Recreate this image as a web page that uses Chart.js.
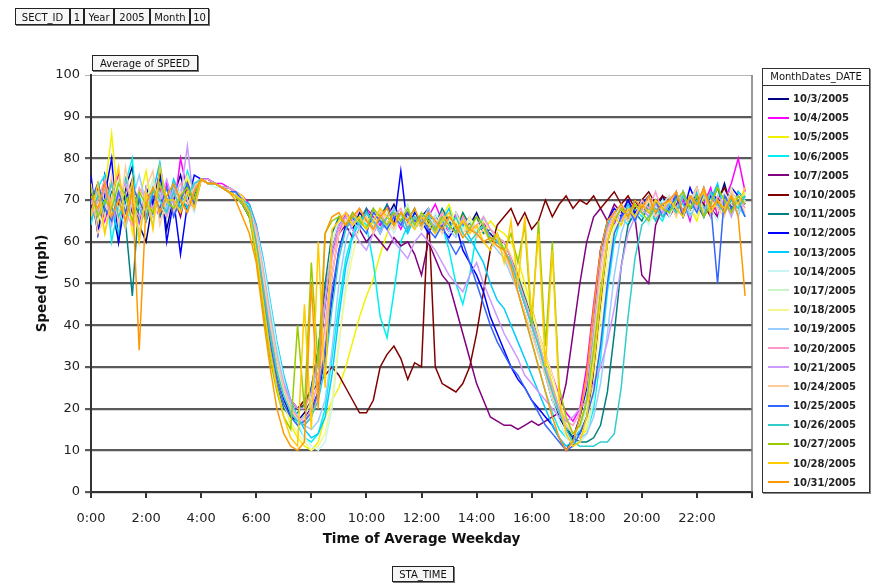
<!DOCTYPE html>
<html>
<head>
<meta charset="utf-8">
<script src="https://cdn.jsdelivr.net/npm/chart.js@4.4.1/dist/chart.umd.min.js"></script>
<style>
  body { margin: 0; background: #fff; font-family: "DejaVu Sans", sans-serif; }
  #wrap { position: relative; width: 880px; height: 585px; overflow: hidden; }
  #chart { position: absolute; left: 0; top: 0; }
  .btn { position: absolute; display: flex; height: 17px; font-size: 10px; line-height: 17px; color: #111; }
  .btn span { border: 1px solid #222; box-shadow: 1px 1px 0 #777; background: #f6f6f6; padding: 0 2px; margin-right: 0; text-align: center; }
  #legend { position: absolute; left: 762px; top: 68px; width: 106px; height: 423px; border: 1px solid #333; box-shadow: 1px 1px 0 #888; background: #fff; }
  #legend .title { height: 16px; line-height: 16px; font-size: 10px; border-bottom: 1px solid #333; text-align: center; color: #111; }
  #legend .item { height: 19.2px; display: flex; align-items: center; font-size: 10px; font-weight: bold; color: #222; }
  #legend .item i { display: inline-block; width: 21px; height: 2px; margin: 0 4px 0 5px; }
</style>
</head>
<body>
<div id="wrap">
  <canvas id="chart" width="880" height="585"></canvas>
  <div class="btn" style="left:15px;top:8px;">
    <span style="width:49px">SECT_ID</span><span style="width:8px">1</span><span style="width:24px">Year</span><span style="width:30px">2005</span><span style="width:34px">Month</span><span style="width:13px">10</span>
  </div>
  <div class="btn" style="left:92px;top:55px;height:16px;line-height:16px;"><span style="width:100px">Average of SPEED</span></div>
  <div class="btn" style="left:392px;top:566px;height:16px;line-height:16px;"><span style="width:56px">STA_TIME</span></div>
  <div id="legend"><div class="title">MonthDates_DATE</div><div id="items" style="padding-top:3px"></div></div>
</div>
<script>
// 15 minute samples, 0:00 .. 23:45
const STEP = 15;
const times = [];
for (let m = 0; m < 1440; m += STEP) times.push(Math.floor(m / 60) + ":" + String(m % 60).padStart(2, "0"));

const seriesNames = ["10/3/2005","10/4/2005","10/5/2005","10/6/2005","10/7/2005","10/10/2005","10/11/2005",
  "10/12/2005","10/13/2005","10/14/2005","10/17/2005","10/18/2005","10/19/2005","10/20/2005","10/21/2005",
  "10/24/2005","10/25/2005","10/26/2005","10/27/2005","10/28/2005","10/31/2005"];

const seriesColors = ["#000080","#FF00FF","#F2F200","#00F0F0","#800080","#800000","#008080","#0000FF",
  "#00CCFF","#C8F4F4","#C8F4C8","#F6F68C","#99CCFF","#FF99CC","#CC99FF","#FFCC99","#3366FF","#33CCCC",
  "#99CC00","#FFCC00","#FF9900"];

const s1003 = [72,62,76,69,60,73,78,64,60,70,75,63, 71,76,69,73,75,74,74,73,73,72,70,68,
  62,50,38,28,22,18,17,19,22,30,45,58, 64,66,63,67,65,68,64,66,69,65,67,64,
  66,68,63,67,65,62,66,64,67,63,62,60, 58,55,50,45,40,34,28,22,18,15,13,14,
  18,28,45,60,66,68,65,70,67,69,66,71, 68,72,66,70,73,67,71,69,74,68,72,70];
const s1004 = [68,73,65,71,76,67,70,64,72,69,66,74, 67,80,72,70,75,75,74,74,73,72,71,69,
  64,55,42,32,25,20,17,16,18,24,35,52, 62,67,65,63,68,66,64,69,66,63,67,65,
  64,66,69,65,62,67,64,66,63,65,61,60, 60,56,52,47,44,38,33,28,23,19,17,20,
  30,45,58,64,64,69,67,65,70,68,66,69, 71,67,70,65,72,69,73,66,70,74,80,72];
const s1005 = [70,64,72,86,68,75,62,70,77,66,71,69, 73,69,75,68,75,74,74,73,73,72,71,68,
  61,50,38,29,22,16,13,11,10,12,18,22, 25,30,36,42,47,51,57,62,65,67,64,66,
  65,67,62,66,69,64,67,63,66,62,65,63, 62,60,56,50,44,38,32,26,20,16,14,13,
  15,22,36,52,63,64,68,66,70,67,65,68, 70,66,72,68,65,71,69,73,67,70,68,72];
const s1006 = [64,73,76,60,69,74,80,62,72,64,78,66, 74,70,77,72,75,74,74,73,72,72,70,68,
  63,54,44,34,26,20,16,13,12,14,20,32, 45,56,62,66,64,55,42,37,48,60,64,67,
  65,63,66,64,58,50,45,52,62,66,63,61, 58,54,48,42,36,30,24,19,15,13,12,12,
  14,20,32,48,60,66,64,68,66,69,67,65, 69,72,67,70,68,73,66,71,69,67,72,70];
const s1007 = [68,73,66,71,69,74,67,72,65,70,73,68, 71,66,74,69,75,74,74,73,72,71,69,66,
  60,50,40,32,26,22,20,21,25,34,48,58, 62,64,61,63,60,62,60,58,61,59,60,57,
  52,60,56,52,50,44,38,32,26,22,18,17, 16,16,15,16,17,16,17,18,19,26,38,50,
  60,66,68,65,69,67,70,66,52,50,64,68, 66,69,71,67,70,72,68,66,71,69,67,70];
const s1010 = [67,72,69,75,65,70,73,68,71,66,72,69, 73,70,68,72,75,74,74,73,72,71,69,66,
  60,50,40,31,25,22,20,22,24,26,28,30, 28,25,22,19,19,22,30,33,35,32,27,31,
  30,68,30,26,25,24,26,30,38,48,58,64, 66,68,64,67,63,65,70,66,69,71,68,70,
  69,71,68,70,72,69,71,68,70,72,69,71, 70,68,72,67,71,69,66,70,73,68,71,69];
const s1011 = [69,74,67,72,70,65,47,71,68,73,66,70, 72,68,74,71,75,74,74,73,72,71,69,66,
  58,46,34,26,20,18,19,21,25,34,50,62, 66,64,67,65,68,63,66,69,64,67,65,68,
  63,66,64,68,65,62,67,64,66,62,63,61, 60,56,52,47,42,36,30,25,20,16,13,12,
  12,13,16,24,38,54,64,67,65,69,66,68, 70,67,72,68,71,66,69,73,67,70,68,71];
const s1012 = [76,62,71,80,60,70,75,62,73,69,77,60, 70,57,69,76,75,75,74,73,73,72,70,67,
  60,48,36,27,22,19,17,18,20,24,32,46, 58,64,66,63,67,65,62,66,64,77,63,67,
  65,62,66,63,61,64,58,55,52,48,42,38, 34,30,27,25,22,20,18,16,13,10,13,18,
  25,40,58,65,68,66,70,67,69,71,66,69, 68,71,67,73,69,66,72,70,68,73,71,69];
const s1013 = [65,70,73,68,62,75,69,71,66,72,79,68, 75,71,68,74,75,74,74,73,72,72,70,69,
  64,56,46,36,28,22,18,15,13,14,18,28, 42,54,61,65,67,64,66,63,68,65,62,66,
  64,67,63,65,68,62,64,61,58,55,50,46, 44,40,36,32,28,24,20,16,13,11,12,15,
  22,38,55,64,67,65,69,66,70,68,65,70, 67,71,69,66,72,68,70,74,67,71,69,66];
const s1014 = [71,66,73,69,75,64,70,72,67,74,68,71, 69,73,70,67,75,74,73,73,72,71,70,68,
  63,55,45,35,27,21,17,13,11,10,12,20, 35,50,60,64,66,63,67,65,62,66,68,64,
  66,63,67,64,62,65,63,66,61,63,60,59, 58,54,50,45,40,34,28,22,17,13,12,12,
  14,22,36,52,63,68,66,69,67,64,68,70, 66,70,72,67,69,71,68,65,72,69,67,70];
const s1017 = [67,72,70,65,73,68,71,63,70,75,69,66, 72,69,71,74,75,74,74,73,72,71,70,68,
  61,51,40,31,24,19,17,18,22,30,46,60, 65,67,64,66,63,68,65,67,64,66,69,63,
  67,64,66,62,65,67,63,65,62,64,61,60, 58,55,50,46,41,36,30,25,20,16,14,15,
  20,32,48,60,66,69,67,65,68,70,66,69, 71,68,66,70,73,67,70,68,71,66,70,72];
const s1018 = [73,68,62,71,66,74,70,68,72,65,70,73, 68,72,76,70,75,74,74,73,72,71,69,67,
  59,47,36,27,21,17,14,12,10,11,14,22, 36,48,57,63,66,64,67,65,63,67,64,66,
  63,66,64,67,63,65,62,66,63,65,63,61, 60,57,53,48,43,38,33,28,22,17,14,13,
  16,26,42,56,64,64,68,66,69,67,70,66, 69,67,71,68,66,72,69,70,67,73,68,70];
const s1019 = [69,72,66,74,68,63,70,76,69,66,72,68, 73,70,67,72,75,74,74,73,73,72,70,68,
  62,53,42,33,26,21,18,16,15,17,22,34, 50,60,65,63,67,65,62,66,68,64,66,63,
  65,68,64,66,63,61,65,63,62,64,60,58, 56,52,48,43,38,33,28,23,19,16,14,13,
  14,18,26,38,52,62,67,65,68,66,69,67, 70,68,72,66,69,71,67,70,68,72,66,71];
const s1020 = [66,70,75,68,72,67,64,73,70,68,74,66, 71,74,70,68,75,75,74,73,73,72,70,68,
  63,53,42,32,25,20,18,17,20,27,40,56, 63,66,64,68,65,63,67,64,66,68,63,66,
  64,66,63,67,64,62,66,63,64,66,63,61, 60,56,51,46,41,36,30,25,20,17,16,19,
  26,40,55,63,67,65,68,66,70,68,72,67, 69,72,67,70,68,73,66,71,69,67,71,68];
const s1021 = [70,67,73,64,71,74,69,66,72,68,70,75, 69,71,83,68,75,74,74,73,72,71,69,67,
  60,50,40,32,26,22,20,20,24,32,46,58, 64,66,63,60,58,62,65,63,60,58,56,60,
  62,60,58,55,52,50,48,52,55,50,46,42, 38,35,32,28,26,24,22,20,18,17,18,20,
  22,26,30,36,44,54,62,66,68,66,69,67, 70,68,66,71,69,67,72,68,70,66,71,69];
const s1024 = [74,62,66,76,64,78,68,62,73,77,64,70, 67,72,69,73,75,74,74,73,72,72,70,68,
  62,52,41,32,25,20,17,16,18,24,36,52, 62,65,67,64,66,62,68,65,63,67,64,66,
  63,67,65,62,66,64,62,64,61,63,60,59, 57,53,48,43,38,33,28,23,19,16,14,16,
  22,36,52,62,66,68,65,69,67,70,66,68, 70,66,71,69,73,67,70,68,66,72,70,67];
const s1025 = [70,74,68,65,72,67,73,70,66,71,68,73, 66,70,74,69,75,74,74,73,72,72,70,67,
  59,47,36,27,21,18,16,17,19,24,34,48, 58,63,66,64,62,67,65,63,66,64,67,65,
  66,63,61,64,60,57,60,55,50,45,40,36, 33,30,28,25,22,19,16,14,12,10,11,14,
  18,24,35,50,62,66,68,65,69,67,70,66, 68,71,66,70,67,72,69,50,71,68,70,66];
const s1026 = [67,71,69,74,66,70,72,68,65,73,70,67, 72,68,71,74,75,74,74,73,72,71,70,68,
  60,49,38,29,23,19,17,16,18,22,30,44, 56,63,66,64,67,65,63,66,64,67,63,66,
  64,66,62,65,63,66,62,60,62,64,61,60, 58,55,50,45,40,35,29,24,19,15,12,11,
  11,11,12,12,14,25,42,56,64,66,68,66, 69,67,71,68,70,66,72,69,67,70,68,71];
const s1027 = [73,66,70,68,74,71,65,72,69,67,74,70, 68,71,73,70,75,74,74,73,72,71,69,66,
  56,44,32,24,18,15,40,20,55,30,62,65, 66,64,67,65,63,68,66,64,67,65,68,64,
  67,65,63,66,64,62,65,63,66,64,60,62, 58,62,55,64,40,65,35,60,25,18,14,16,
  22,34,48,60,65,68,66,69,67,65,70,68, 67,70,72,68,71,66,69,73,70,67,71,69];
const s1028 = [66,74,62,70,78,64,75,60,72,63,78,70, 70,67,72,68,75,74,74,73,72,71,70,67,
  58,46,34,25,18,13,11,45,15,60,25,63, 65,67,64,66,63,65,68,66,64,67,65,63,
  66,64,62,65,67,63,65,62,64,60,58,62, 55,65,50,66,42,62,30,58,22,14,11,12,
  18,30,46,60,66,64,68,66,69,67,70,68, 70,68,66,71,69,72,67,70,68,71,69,73];
const s1031 = [71,68,74,66,70,65,72,34,69,73,67,71, 74,70,67,72,75,74,74,73,72,70,66,62,
  55,42,30,20,14,11,10,12,50,20,62,66, 67,64,66,68,65,63,66,68,64,67,65,68,
  64,67,65,63,66,64,61,63,62,60,61,59, 58,54,48,42,36,30,24,18,13,10,12,18,
  28,44,58,65,67,69,66,70,68,71,67,69, 70,72,67,71,69,73,68,70,67,71,66,47];

const seriesValues = [s1003,s1004,s1005,s1006,s1007,s1010,s1011,s1012,s1013,s1014,s1017,
  s1018,s1019,s1020,s1021,s1024,s1025,s1026,s1027,s1028,s1031];

function toMinutes(t) { const p = t.split(":"); return (+p[0]) * 60 + (+p[1]); }

const datasets = seriesNames.map((name, i) => ({
  label: name,
  data: seriesValues[i].map((v, k) => ({ x: toMinutes(times[k]), y: v })),
  borderColor: seriesColors[i],
  borderWidth: 1.5,
  pointRadius: 0,
  tension: 0,
  fill: false,
  order: seriesNames.length - i   // later dates drawn on top, like Excel
}));

const frame = {
  id: "frame",
  afterDraw(chart) {
    const { ctx, chartArea } = chart;
    ctx.save();
    ctx.strokeStyle = "#777";
    ctx.lineWidth = 1.5;
    ctx.beginPath();
    ctx.moveTo(chartArea.right, chartArea.top);
    ctx.lineTo(chartArea.right, chartArea.bottom);
    ctx.stroke();
    ctx.restore();
  }
};

const font = "'DejaVu Sans', sans-serif";

new Chart(document.getElementById("chart"), {
  type: "line",
  data: { datasets: datasets },
  options: {
    responsive: false,
    animation: false,
    devicePixelRatio: 1,
    layout: { padding: { left: 0, right: 128, top: 75, bottom: 0 } },
    plugins: { legend: { display: false }, tooltip: { enabled: false } },
    scales: {
      x: {
        type: "linear",
        min: 0,
        max: 1440,
        afterFit: (s) => { s.height = 93; },
        ticks: {
          stepSize: 120,
          color: "#222",
          padding: 13,
          maxRotation: 0,
          font: { family: font, size: 13 },
          callback: (v) => (v >= 1440 ? "" : (v / 60) + ":00")
        },
        grid: { drawOnChartArea: false, color: "#333", tickLength: 6, lineWidth: 2 },
        border: { color: "#333", width: 2 },
        title: {
          display: true,
          text: "Time of Average Weekday",
          color: "#111",
          padding: { top: 37, bottom: 37 },
          font: { family: font, size: 13.5, weight: "bold" }
        }
      },
      y: {
        min: 0,
        max: 100,
        afterFit: (s) => { s.width = 91; },
        ticks: {
          stepSize: 10,
          color: "#222",
          padding: 5,
          font: { family: font, size: 13 }
        },
        grid: {
          color: (c) => (c.tick && c.tick.value === 100 ? "#b5b5b5" : "#5a5a5a"),
          lineWidth: (c) => (c.tick && c.tick.value === 100 ? 1 : 2.2),
          tickLength: 6
        },
        border: { color: "#333", width: 2 },
        title: {
          display: true,
          text: "Speed (mph)",
          color: "#111",
          padding: { top: 34, bottom: 0 },
          font: { family: font, size: 13.5, weight: "bold" }
        }
      }
    }
  },
  plugins: [frame]
});

// legend list built from the same names and colours
const items = document.getElementById("items");
seriesNames.forEach((name, i) => {
  const row = document.createElement("div");
  row.className = "item";
  row.innerHTML = '<i style="background:' + seriesColors[i] + '"></i>' + name;
  items.appendChild(row);
});
</script>
</body>
</html>
